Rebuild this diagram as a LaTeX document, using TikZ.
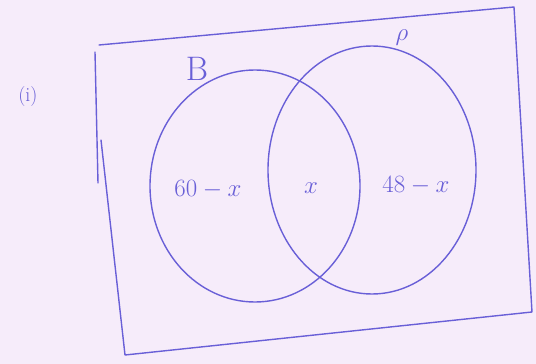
\documentclass[tikz,border=0pt]{standalone}
\usepackage{tikz}
\usetikzlibrary{shapes.geometric}
\definecolor{ink}{RGB}{105,95,215}
\definecolor{paper}{RGB}{246,236,250}
\tikzset{
  pen/.style={draw=ink, line width=1.4pt, line cap=round, line join=round},
  setellipse/.style={ellipse, pen, inner sep=0pt},
  lbl/.style={text=ink, font=\fontsize{32}{36}\selectfont, inner sep=1pt}
}
\begin{document}
\begin{tikzpicture}[x=1pt,y=-1pt]
\useasboundingbox (0,0) rectangle (536,364);
\fill[paper] (0,0) rectangle (536,364);
% frame (hand-drawn, skewed)
\coordinate (tl) at (99,45);
\coordinate (tr) at (514,7);
\coordinate (br) at (532,312);
\coordinate (bl) at (125,355);
\coordinate (lt) at (95,52);
\coordinate (lb) at (98,183);
\draw[pen] (tl) -- (tr) -- (br) -- (bl) -- (101,140);
\draw[pen] (lt) -- (lb);
% sets
\node[setellipse, minimum width=210pt, minimum height=232pt] (B) at (255,186) {};
\node[setellipse, minimum width=208pt, minimum height=248pt] (P) at (372,170) {};
% set labels
\node[lbl, font=\fontsize{34}{38}\selectfont] (Bl) at (197,69) {B};
\node[lbl, font=\fontsize{26}{30}\selectfont] (Pl) at (402,38) {$\rho$};
\node[lbl, font=\fontsize{20}{24}\selectfont] (il) at (28,97) {(i)};
% region values
\node[lbl] (r1) at (208,190) {$60-x$};
\node[lbl] (r2) at (311,188) {$x$};
\node[lbl] (r3) at (416,186) {$48-x$};
\end{tikzpicture}
\end{document}
